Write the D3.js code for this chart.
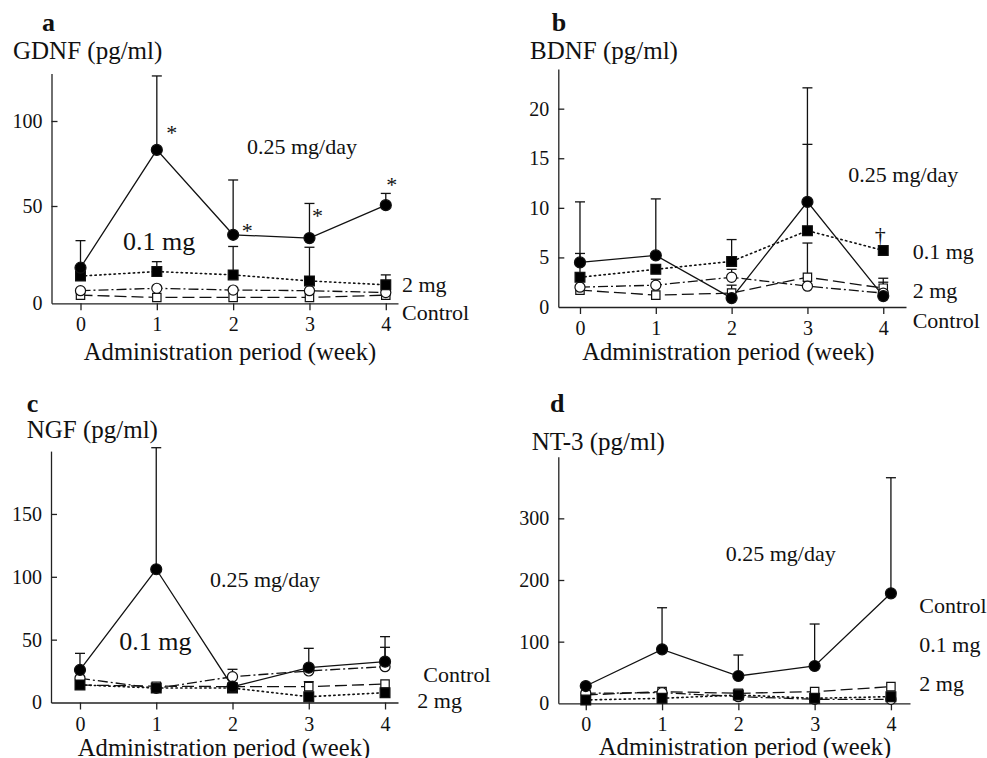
<!DOCTYPE html>
<html>
<head>
<meta charset="utf-8">
<script src="https://cdn.jsdelivr.net/npm/d3@7"></script>
<style>
  body { margin: 0; background: #fff; }
  svg { display: block; }
</style>
</head>
<body>
<div id="chart"></div>
<script>
// ---- data ----
const weeks = [0, 1, 2, 3, 4];
const groupNames = ["0.25 mg/day", "0.1 mg", "2 mg", "Control"];

// a: GDNF (pg/ml); *Top = upper end of the error bar, null = none drawn
const gdnf025 = [18.3, 83.0, 35.2, 33.5, 50.5];
const gdnf025Top = [32.2, 126.5, 65.3, 51.5, 57.4];
const gdnf01 = [14.0, 16.3, 14.6, 11.5, 9.5];
const gdnf01Top = [null, 21.4, 29.2, 28.8, 14.6];
const gdnf2 = [6.5, 7.7, 6.8, 6.5, 5.5];
const gdnfCtrl = [4.2, 3.0, 3.0, 3.0, 4.2];

// b: BDNF (pg/ml)
const bdnf025 = [4.5, 5.2, 0.9, 10.6, 1.1];
const bdnf025Top = [10.6, 10.9, null, 22.1, null];
const bdnf01 = [3.0, 3.8, 4.6, 7.7, 5.7];
const bdnf01Top = [5.4, null, 6.8, 16.4, null];
const bdnf2 = [2.0, 2.2, 3.0, 2.1, 1.4];
const bdnf2Top = [null, 2.8, 3.8, null, 2.9];
const bdnfCtrl = [1.7, 1.2, 1.4, 3.0, 1.9];
const bdnfCtrlTop = [null, null, 2.2, 6.45, 2.5];

// c: NGF (pg/ml)
const ngf025 = [25.9, 106.0, 12.6, 27.7, 32.5];
const ngf025Top = [39.1, 202.7, null, 43.1, 52.4];
const ngf01 = [14.0, 11.5, 11.5, 4.6, 7.8];
const ngf2 = [19.2, 11.3, 20.5, 25.1, 28.5];
const ngf2Top = [null, null, 26.4, null, 43.9];
const ngfCtrl = [13.9, 13.0, 12.6, 12.6, 14.7];
const ngfCtrlTop = [null, null, null, 16.6, null];

// d: NT-3 (pg/ml)
const nt3025 = [28.0, 87.5, 44.3, 60.5, 178.4];
const nt3025Top = [null, 155.0, 78.3, 128.6, 365.9];
const nt301 = [5.4, 8.1, 13.5, 8.1, 10.8];
const nt32 = [16.2, 17.3, 10.8, 6.5, 6.5];
const nt3Ctrl = [13.5, 18.9, 16.2, 18.9, 27.0];

// ---- styles per group ----
const FONT = "'Liberation Serif', 'Times New Roman', Times, serif";
const groupStyle = {
    "0.25 mg/day": { dash: null, symbol: d3.symbolCircle, size: 95, fill: "#000" },
    "0.1 mg": { dash: "1.4,3.4", symbol: d3.symbolSquare, size: 96, fill: "#000" },
    "2 mg": { dash: "10,3,2,3", symbol: d3.symbolCircle, size: 80, fill: "#fff" },
    "Control": { dash: "12,5", symbol: d3.symbolSquare, size: 70, fill: "#fff" }
};

// ---- panel layout ----
const panels = [
    {
        letter: "a", letterPos: [42, 31], title: "GDNF (pg/ml)", titlePos: [13, 59],
        box: { left: 51.5, right: 398, bottom: 303.3 },
        xDomain: [-0.38, 4.16],
        yDomain: [0, 50, 128], yRange: [303.3, 206, 73.4], yTicks: [0, 50, 100],
        series: [
            { name: "Control", values: gdnfCtrl, top: null },
            { name: "2 mg", values: gdnf2, top: null },
            { name: "0.1 mg", values: gdnf01, top: gdnf01Top },
            { name: "0.25 mg/day", values: gdnf025, top: gdnf025Top }
        ],
        labels: [
            ["0.25 mg/day", 247, 154.3, 22], ["0.1 mg", 123, 250, 26],
            ["2 mg", 402, 291.7, 22], ["Control", 402, 320, 22]
        ],
        marks: [["*", 1, 15, -20], ["*", 2, 14, -7], ["*", 3, 8, -25], ["*", 4, 6, -23]],
        markSeries: gdnf025,
        xTitle: [230, 360]
    },
    {
        letter: "b", letterPos: [551.7, 31], title: "BDNF (pg/ml)", titlePos: [530, 59.3],
        box: { left: 558.3, right: 906, bottom: 307 },
        xDomain: [-0.286, 4.3],
        yDomain: [0, 24], yRange: [307, 69], yTicks: [0, 5, 10, 15, 20],
        series: [
            { name: "Control", values: bdnfCtrl, top: bdnfCtrlTop },
            { name: "2 mg", values: bdnf2, top: bdnf2Top },
            { name: "0.1 mg", values: bdnf01, top: bdnf01Top },
            { name: "0.25 mg/day", values: bdnf025, top: bdnf025Top }
        ],
        labels: [
            ["0.25 mg/day", 848.3, 181.7, 22], ["0.1 mg", 912.7, 259.3, 22],
            ["2 mg", 912.7, 297.7, 22], ["Control", 912.7, 328.3, 22]
        ],
        marks: [["†", 4, -3, -14]],
        markSeries: bdnf01,
        xTitle: [728.3, 360]
    },
    {
        letter: "c", letterPos: [26.7, 411.7], title: "NGF (pg/ml)", titlePos: [26.7, 438.3],
        box: { left: 51, right: 398, bottom: 702.5 },
        xDomain: [-0.38, 4.17],
        yDomain: [0, 200], yRange: [702.5, 451.1], yTicks: [0, 50, 100, 150],
        series: [
            { name: "Control", values: ngfCtrl, top: ngfCtrlTop },
            { name: "2 mg", values: ngf2, top: ngf2Top },
            { name: "0.1 mg", values: ngf01, top: null },
            { name: "0.25 mg/day", values: ngf025, top: ngf025Top }
        ],
        labels: [
            ["0.25 mg/day", 210, 586.7, 22], ["0.1 mg", 119.3, 650, 26],
            ["Control", 423.3, 681.7, 22], ["2 mg", 417.3, 707.7, 22]
        ],
        marks: [],
        xTitle: [224, 756]
    },
    {
        letter: "d", letterPos: [550, 411.7], title: "NT-3 (pg/ml)", titlePos: [531.7, 450],
        box: { left: 558.3, right: 910, bottom: 703.3 },
        xDomain: [-0.36, 4.25],
        yDomain: [0, 400], yRange: [703.3, 456.7], yTicks: [0, 100, 200, 300],
        series: [
            { name: "Control", values: nt3Ctrl, top: null },
            { name: "2 mg", values: nt32, top: null },
            { name: "0.1 mg", values: nt301, top: null },
            { name: "0.25 mg/day", values: nt3025, top: nt3025Top }
        ],
        labels: [
            ["0.25 mg/day", 725.7, 560.7, 22], ["Control", 919.3, 612.7, 22],
            ["0.1 mg", 919.3, 651.7, 22], ["2 mg", 919.3, 690.7, 22]
        ],
        marks: [],
        xTitle: [745, 755]
    }
];

const svg = d3.select("#chart").append("svg")
    .attr("width", 987)
    .attr("height", 758)
    .style("background", "#fff");

panels.forEach(drawPanel);

function drawPanel(p) {
    const g = svg.append("g");

    const x = d3.scaleLinear().domain(p.xDomain).range([p.box.left, p.box.right]);
    const y = d3.scaleLinear().domain(p.yDomain).range(p.yRange);

    // axes
    const xAxis = g.append("g")
        .attr("transform", `translate(0,${p.box.bottom})`)
        .call(d3.axisBottom(x).tickValues(weeks).tickFormat(d3.format("d"))
            .tickSizeInner(7).tickSizeOuter(0).tickPadding(7));
    const yAxis = g.append("g")
        .attr("transform", `translate(${p.box.left},0)`)
        .call(d3.axisLeft(y).tickValues(p.yTicks).tickFormat(d3.format("d"))
            .tickSizeInner(-6).tickSizeOuter(0).tickPadding(9));

    [xAxis, yAxis].forEach(a => {
        a.attr("font-family", FONT).attr("font-size", 20);
        a.selectAll("path, line").attr("stroke", "#222").attr("stroke-width", 1.3);
        a.selectAll("text").attr("fill", "#111");
    });
    yAxis.selectAll(".tick").filter(d => d === 0).select("line").remove();

    // lines
    const line = d3.line().x((d, i) => x(weeks[i])).y(d => y(d));
    p.series.forEach(s => {
        const st = groupStyle[s.name];
        g.append("path")
            .datum(s.values)
            .attr("d", line)
            .attr("fill", "none")
            .attr("stroke", "#111")
            .attr("stroke-width", s.name === "0.1 mg" ? 1.6 : 1.3)
            .attr("stroke-linecap", s.name === "0.1 mg" ? "round" : "butt")
            .attr("stroke-dasharray", st.dash);
    });

    // error bars (upper only)
    p.series.filter(s => s.top).forEach(s => {
        const eb = weeks.map((w, i) => ({ w: w, v: s.values[i], t: s.top[i] }))
            .filter(d => d.t !== null);
        const eg = g.append("g").attr("stroke", "#111").attr("stroke-width", 1.3);
        eg.selectAll(".stem").data(eb).join("line")
            .attr("x1", d => x(d.w)).attr("x2", d => x(d.w))
            .attr("y1", d => y(d.v)).attr("y2", d => y(d.t));
        eg.selectAll(".cap").data(eb).join("line")
            .attr("x1", d => x(d.w) - 5).attr("x2", d => x(d.w) + 5)
            .attr("y1", d => y(d.t)).attr("y2", d => y(d.t));
    });

    // markers
    p.series.forEach(s => {
        const st = groupStyle[s.name];
        g.append("g").selectAll("path")
            .data(s.values)
            .join("path")
            .attr("transform", (d, i) => `translate(${x(weeks[i])},${y(d)})`)
            .attr("d", d3.symbol(st.symbol, st.size))
            .attr("fill", st.fill)
            .attr("stroke", "#111")
            .attr("stroke-width", 1.2);
    });

    // significance marks
    p.marks.forEach(m => {
        const i = weeks.indexOf(m[1]);
        g.append("text")
            .attr("x", x(m[1]) + m[2])
            .attr("y", y(p.markSeries[i]) + m[3])
            .attr("dy", m[0] === "*" ? "0.47em" : "0.27em")
            .attr("text-anchor", "middle")
            .attr("font-family", FONT)
            .attr("font-size", 22)
            .attr("fill", "#111")
            .text(m[0]);
    });

    // group labels
    p.labels.forEach(l => {
        g.append("text")
            .attr("x", l[1]).attr("y", l[2])
            .attr("font-family", FONT)
            .attr("font-size", l[3])
            .attr("fill", "#111")
            .text(l[0]);
    });

    // panel letter and titles
    g.append("text")
        .attr("x", p.letterPos[0]).attr("y", p.letterPos[1])
        .attr("font-family", FONT).attr("font-weight", "bold").attr("font-size", 26)
        .attr("fill", "#111")
        .text(p.letter);

    g.append("text")
        .attr("x", p.titlePos[0]).attr("y", p.titlePos[1])
        .attr("font-family", FONT).attr("font-size", 25)
        .attr("fill", "#111")
        .text(p.title);

    g.append("text")
        .attr("x", p.xTitle[0]).attr("y", p.xTitle[1])
        .attr("text-anchor", "middle")
        .attr("font-family", FONT).attr("font-size", 24.6)
        .attr("fill", "#111")
        .text("Administration period (week)");
}
</script>
</body>
</html>
